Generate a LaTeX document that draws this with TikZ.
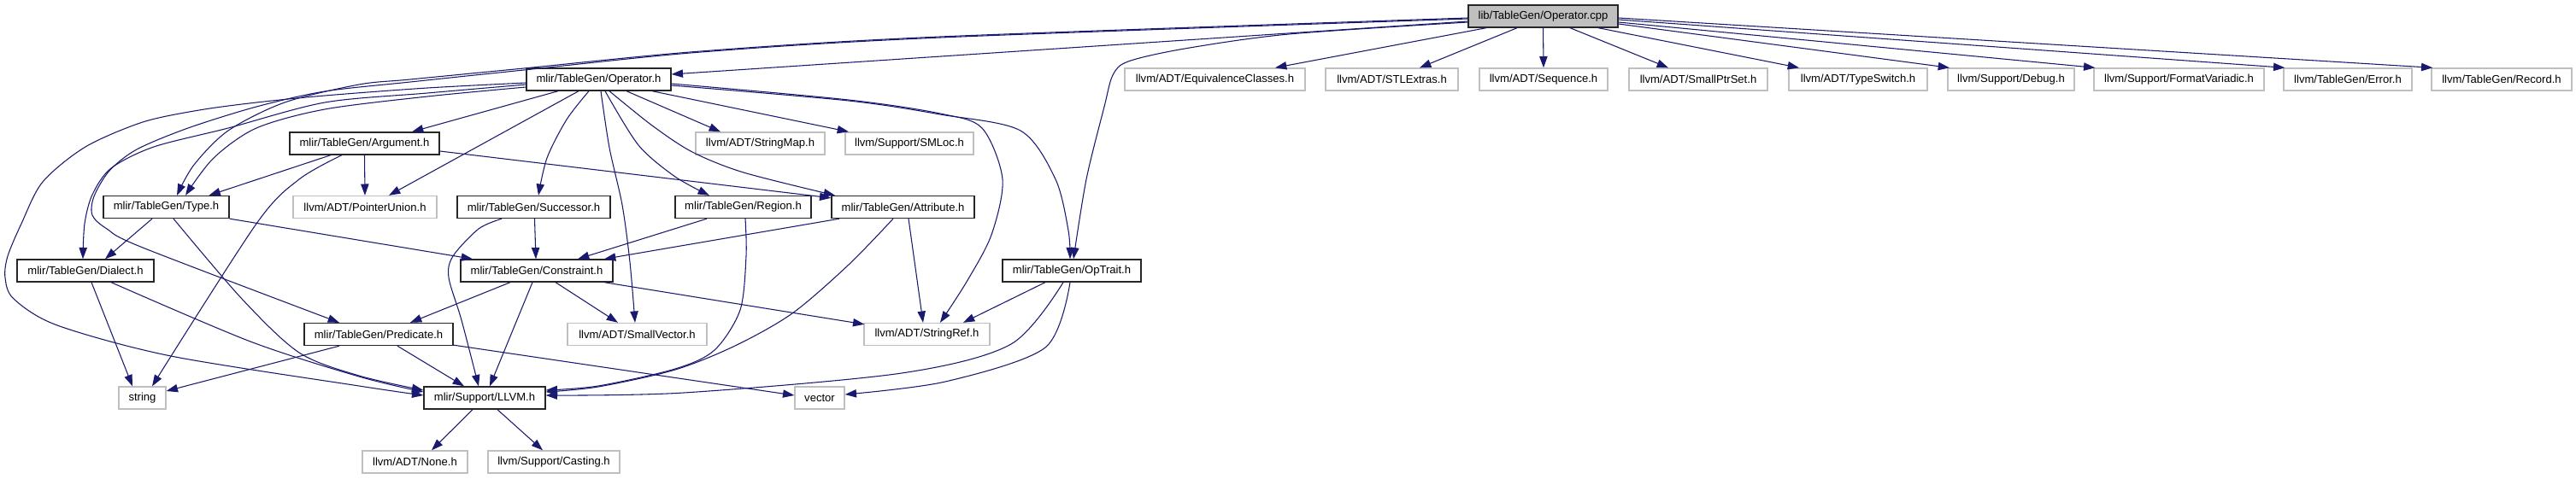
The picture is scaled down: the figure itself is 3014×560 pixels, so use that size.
\documentclass[tikz,border=0pt]{standalone}
\usepackage{fontspec}
\setmainfont{Liberation Sans}
\usetikzlibrary{arrows.meta,calc}
\definecolor{edgeblue}{HTML}{191970}
\definecolor{greyline}{HTML}{BFBFBF}
\begin{document}
\begin{tikzpicture}[x=0.75pt,y=-0.75pt,
  box/.style={draw, line width=1pt, inner sep=0pt, minimum height=19.5pt, font=\fontsize{9.8}{11}\selectfont, text=black},
  hdr/.style={box, draw=black!85},
  sys/.style={box, draw=greyline},
  root/.style={box, draw=black!85, fill=greyline},
  wd/.style={minimum width=#1*0.75pt},
  conn/.style={draw=edgeblue, line width=0.8pt, -{Triangle[length=10pt,width=7pt]}},
]
\useasboundingbox (0,0) rectangle (3014,560);

% nodes
\node[root, wd=175] (cpp) at (1805.5,19) {lib/TableGen/Operator.cpp};
\node[hdr, wd=169] (oph) at (700.5,93) {mlir/TableGen/Operator.h};
\node[sys, wd=211] (eqv) at (1421.5,93) {llvm/ADT/EquivalenceClasses.h};
\node[sys, wd=155] (stl) at (1628.5,93) {llvm/ADT/STLExtras.h};
\node[sys, wd=150] (seq) at (1806,93) {llvm/ADT/Sequence.h};
\node[sys, wd=162] (sps) at (1987,93) {llvm/ADT/SmallPtrSet.h};
\node[sys, wd=162] (tsw) at (2174,93) {llvm/ADT/TypeSwitch.h};
\node[sys, wd=148] (dbg) at (2353,93) {llvm/Support/Debug.h};
\node[sys, wd=199] (fmv) at (2549.5,93) {llvm/Support/FormatVariadic.h};
\node[sys, wd=150] (err) at (2747,93) {llvm/TableGen/Error.h};
\node[sys, wd=164] (rec) at (2927,93) {llvm/TableGen/Record.h};
\node[hdr, wd=175] (arg) at (426.5,168) {mlir/TableGen/Argument.h};
\node[sys, wd=151] (smap) at (889.5,168) {llvm/ADT/StringMap.h};
\node[sys, wd=150] (sml) at (1064,168) {llvm/Support/SMLoc.h};
\node[hdr, wd=147] (typ) at (194.5,242.5) {mlir/TableGen/Type.h};
\node[sys, wd=168] (pun) at (427,242.5) {llvm/ADT/PointerUnion.h};
\node[hdr, wd=179] (suc) at (624.5,242.5) {mlir/TableGen/Successor.h};
\node[hdr, wd=159] (reg) at (869.5,242.5) {mlir/TableGen/Region.h};
\node[hdr, wd=167] (att) at (1056.5,242.5) {mlir/TableGen/Attribute.h};
\node[hdr, wd=160] (dia) at (100,317) {mlir/TableGen/Dialect.h};
\node[hdr, wd=178] (con) at (628,317) {mlir/TableGen/Constraint.h};
\node[hdr, wd=162] (opt) at (1254,317) {mlir/TableGen/OpTrait.h};
\node[hdr, wd=174] (pre) at (443,391.5) {mlir/TableGen/Predicate.h};
\node[sys, wd=163] (svc) at (745.5,391.5) {llvm/ADT/SmallVector.h};
\node[sys, wd=147] (sref) at (1084.5,391.5) {llvm/ADT/StringRef.h};
\node[sys, wd=55] (str) at (166.5,466) {string};
\node[hdr, wd=142] (llv) at (567,466) {mlir/Support/LLVM.h};
\node[sys, wd=58] (vec) at (959,466) {vector};
\node[sys, wd=123] (non) at (485.5,541) {llvm/ADT/None.h};
\node[sys, wd=154] (cas) at (648,541) {llvm/Support/Casting.h};

% Operator.cpp
\draw[conn] ([shift={(0,6)}]cpp.west) -- ([shift={(0,-6)}]oph.east);
\draw[conn] plot[smooth] coordinates {([shift={(0,2)}]cpp.west) (1100,43) (820,60) (613,80) (480,93) (420,99) (333,120) (267,153) (227,193) ([shift={(12.5,0)}]typ.north)};
\draw[conn] plot[smooth] coordinates {([shift={(0,3)}]cpp.west) (1100,44) (820,61) (613,82) (480,96) (380,107) (300,125) (220,150) (160,175) (128,200) (110,230) (108,252) (125,268) (167,290) ([shift={(-46,0)}]pre.north)};
\draw[conn] plot[smooth] coordinates {([shift={(0,7)}]cpp.west) (1508,40) (1386,57) (1320,72) (1302,88) (1292,125) (1271,210) ([shift={(2,0)}]opt.north)};
\draw[conn] ([shift={(-66.5,0)}]cpp.south) -- ([shift={(70.5,0)}]eqv.north);
\draw[conn] ([shift={(-30.5,0)}]cpp.south) -- ([shift={(32.5,0)}]stl.north);
\draw[conn] (cpp.south) -- (seq.north);
\draw[conn] ([shift={(31.5,0)}]cpp.south) -- ([shift={(-35,0)}]sps.north);
\draw[conn] ([shift={(64.5,0)}]cpp.south) -- ([shift={(-69,0)}]tsw.north);
\draw[conn] ([shift={(0,9)}]cpp.east) -- ([shift={(-72,0)}]dbg.north);
\draw[conn] ([shift={(0,7)}]cpp.east) -- ([shift={(2,0)}]fmv.north west);
\draw[conn] ([shift={(0,4)}]cpp.east) -- ([shift={(2,0)}]err.north west);
\draw[conn] ([shift={(0,2)}]cpp.east) -- ([shift={(2,0)}]rec.north west);

% Operator.h
\draw[conn] plot[smooth] coordinates {([shift={(0,4)}]oph.west) (500,103) (380,112) (300,120) (233,129) (167,143) (100,172) (50,213) (25,262) (9,300) (6,325) (16,350) (67,381) (200,417) (420,452) ([shift={(0,-3)}]llv.west)};
\draw[conn] plot[smooth] coordinates {([shift={(0,6)}]oph.west) (500,109) (380,120) (267,150) (180,172) (130,197) (108,228) (99,262) ([shift={(-3,0)}]dia.north)};
\draw[conn] plot[smooth] coordinates {([shift={(0,9)}]oph.west) (500,113) (380,128) (300,150) (250,185) ([shift={(22.5,0)}]typ.north)};
\draw[conn] ([shift={(-47.5,0)}]oph.south) -- ([shift={(55.5,0)}]arg.north);
\draw[conn] ([shift={(-23.5,0)}]oph.south) -- ([shift={(28,0)}]pun.north);
\draw[conn] plot[smooth] coordinates {([shift={(-11.5,0)}]oph.south) (663,140) (640,185) ([shift={(5.5,0)}]suc.north)};
\draw[conn] plot[smooth] coordinates {([shift={(2.5,0)}]oph.south) (713,173) (728,240) (737,307) ([shift={(-2.5,0)}]svc.north)};
\draw[conn] plot[smooth] coordinates {([shift={(7.5,0)}]oph.south) (747,170) (790,207) ([shift={(-39.5,0)}]reg.north)};
\draw[conn] plot[smooth] coordinates {([shift={(12.5,0)}]oph.south) (763,147) (810,178) (870,202) ([shift={(-79.5,0)}]att.north)};
\draw[conn] ([shift={(32.5,0)}]oph.south) -- ([shift={(-46.5,0)}]smap.north);
\draw[conn] ([shift={(62.5,0)}]oph.south) -- ([shift={(-71,0)}]sml.north);
\draw[conn] plot[smooth] coordinates {([shift={(0,5)}]oph.east) (993,117) (1100,133) (1149,150) (1173,210) (1160,275) (1131,330) ([shift={(15.5,0)}]sref.north)};
\draw[conn] plot[smooth] coordinates {([shift={(0,7)}]oph.east) (993,118) (1100,134) (1194,153) (1235,210) (1250,270) ([shift={(-2,0)}]opt.north)};

% Argument.h
\draw[conn] ([shift={(-39.5,0)}]arg.south) -- ([shift={(50,0)}]typ.north);
\draw[conn] (arg.south) -- (pun.north);
\draw[conn] plot[smooth] coordinates {([shift={(-26.5,0)}]arg.south) (350,210) (300,262) ([shift={(11.5,0)}]str.north)};
\draw[conn] ([shift={(0,9)}]arg.east) -- ([shift={(0,3)}]att.north west);

% Type.h
\draw[conn] ([shift={(-16.5,0)}]typ.south) -- ([shift={(23,0)}]dia.north);
\draw[conn] plot[smooth] coordinates {([shift={(8.5,0)}]typ.south) (283,350) (350,413) (420,440) ([shift={(0,-9)}]llv.west)};
\draw[conn] (typ.south east) -- ([shift={(-75,0)}]con.north);

% Successor.h
\draw[conn] ([shift={(1,0)}]suc.south) -- ([shift={(-1,0)}]con.north);
\draw[conn] plot[smooth] coordinates {([shift={(-37.5,0)}]suc.south) (560,268) (530,300) (525,325) (540,375) ([shift={(-7,0)}]llv.north)};

% Region.h
\draw[conn] ([shift={(-42.5,0)}]reg.south) -- ([shift={(48,0)}]con.north);
\draw[conn] plot[smooth] coordinates {([shift={(2.5,0)}]reg.south) (873,300) (866,363) (836,410) (790,432) (700,452) ([shift={(0,-9)}]llv.east)};

% Attribute.h
\draw[conn] ([shift={(-74.5,0)}]att.south) -- ([shift={(79,0)}]con.north);
\draw[conn] plot[smooth] coordinates {([shift={(-11.5,0)}]att.south) (993,310) (927,367) (860,405) (790,433) (700,453) ([shift={(0,-7)}]llv.east)};
\draw[conn] ([shift={(6.5,0)}]att.south) -- ([shift={(-4.5,0)}]sref.north);

% Dialect.h
\draw[conn] ([shift={(7,0)}]dia.south) -- ([shift={(-11.5,0)}]str.north);
\draw[conn] plot[smooth] coordinates {([shift={(30,0)}]dia.south) (293,400) (420,441) ([shift={(0,-7)}]llv.west)};

% Constraint.h
\draw[conn] ([shift={(-31,0)}]con.south) -- ([shift={(37,0)}]pre.north);
\draw[conn] ([shift={(-5,0)}]con.south) -- ([shift={(6,0)}]llv.north);
\draw[conn] ([shift={(22,0)}]con.south) -- ([shift={(-22.5,0)}]svc.north);
\draw[conn] ([shift={(79,0)}]con.south) -- ([shift={(1,2)}]sref.north west);

% Predicate.h
\draw[conn] ([shift={(-46,0)}]pre.south) -- ([shift={(0,-8)}]str.east);
\draw[conn] ([shift={(22,0)}]pre.south) -- ([shift={(-24,0)}]llv.north);
\draw[conn] ([shift={(0,-1)}]pre.south east) -- ([shift={(0,-3)}]vec.west);

% OpTrait.h
\draw[conn] ([shift={(-31,0)}]opt.south) -- ([shift={(42.5,0)}]sref.north);
\draw[conn] plot[smooth] coordinates {([shift={(-10,0)}]opt.south) (1183,403) (1055,437) (800,460) ([shift={(0,-3)}]llv.east)};
\draw[conn] plot[smooth] coordinates {([shift={(-2,0)}]opt.south) (1223,407) (1106,447) ([shift={(0,-4)}]vec.east)};

% LLVM.h
\draw[conn] ([shift={(-14,0)}]llv.south) -- ([shift={(19.5,0)}]non.north);
\draw[conn] ([shift={(15,0)}]llv.south) -- ([shift={(-13,0)}]cas.north);
\end{tikzpicture}
\end{document}
